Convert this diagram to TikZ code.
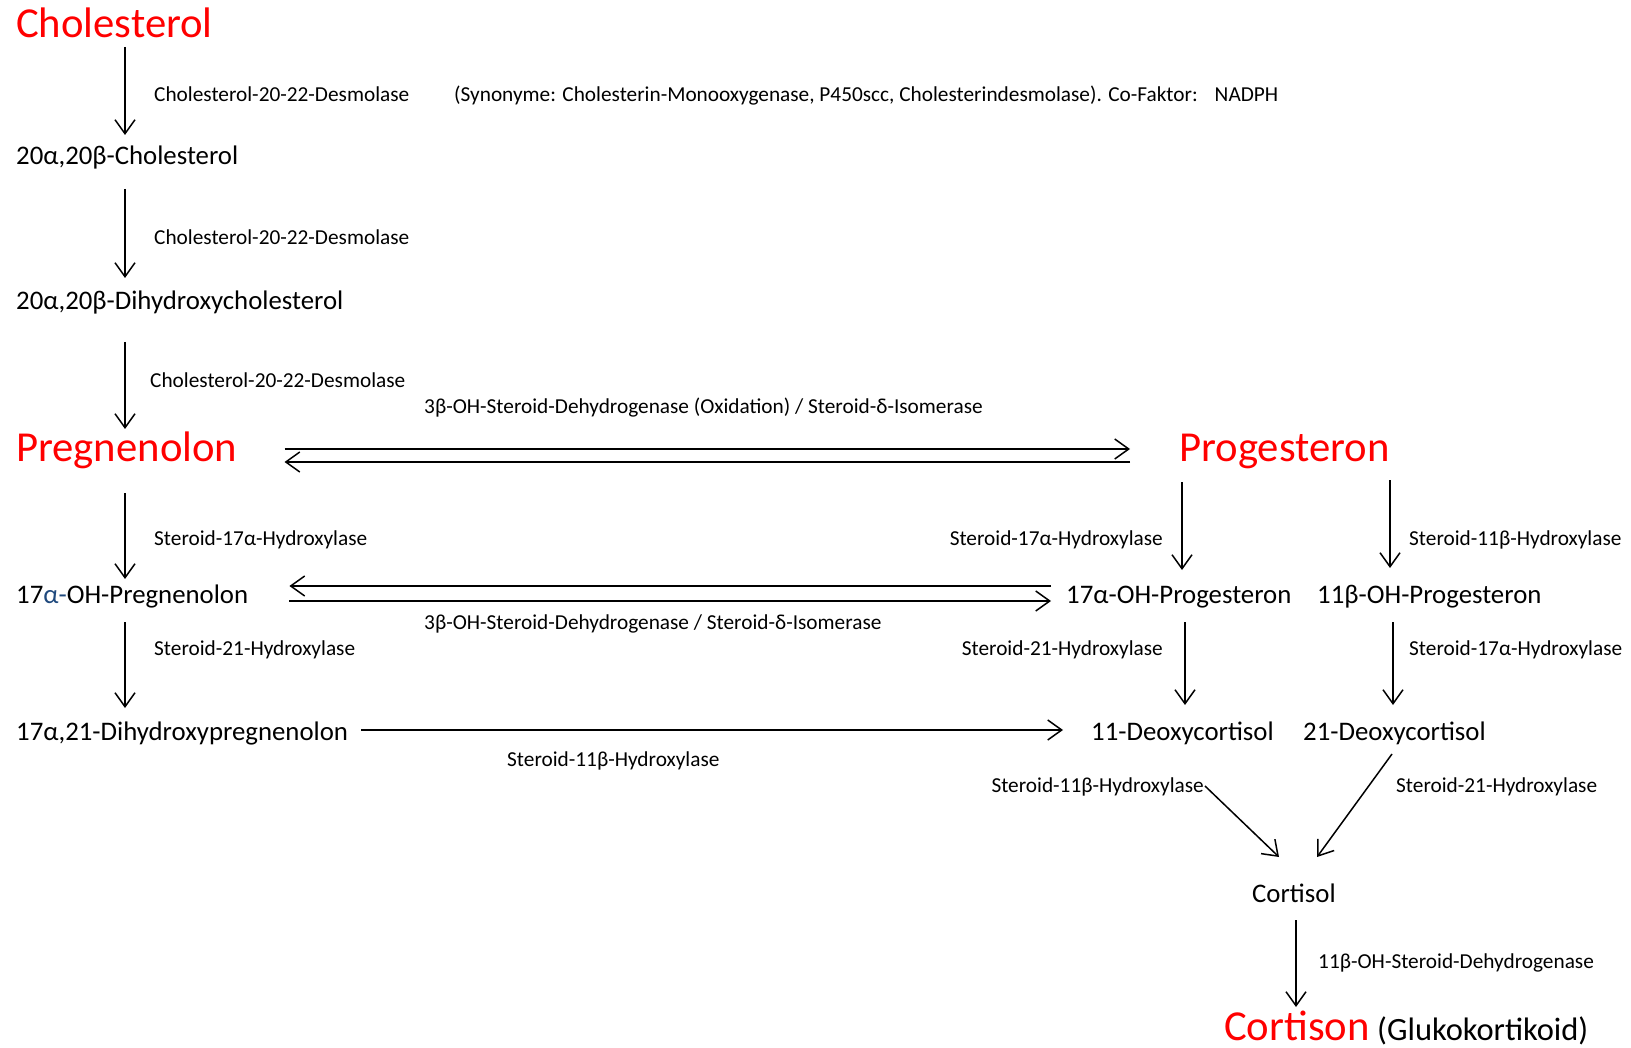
\documentclass[tikz,border=0pt]{standalone}
\usepackage{fontspec}
\setmainfont{Carlito}
\usetikzlibrary{arrows.meta,calc}
\definecolor{hred}{RGB}{255,0,0}
\definecolor{aBlue}{RGB}{31,73,125}
\begin{document}
\begin{tikzpicture}[x=1pt,y=-1pt,
  every node/.style={inner sep=0pt,anchor=base west},
  big/.style={text=hred,font=\fontsize{42.7}{50}\selectfont},
  mid/.style={font=\fontsize{26.8}{32}\selectfont},
  note/.style={font=\fontsize{32.5}{38}\selectfont},
  lbl/.style={font=\fontsize{21.3}{25}\selectfont},
  arr/.style={line width=1.5pt,-{Straight Barb[length=14pt,width=20pt]}}]
\useasboundingbox (0,0) rectangle (1631,1048);
% columns
\coordinate (colA) at (125,0);
\coordinate (colB) at (1182,0);
\coordinate (colC) at (1390,0);
\coordinate (colD) at (1185,0);
\coordinate (colE) at (1393,0);
\coordinate (colF) at (1296,0);
% substances
\node[big] (chol) at (16,38) {Cholesterol};
\node[mid] (c20) at (16,164.5) {20α,20β-Cholesterol};
\node[mid] (dihyd) at (16,309.5) {20α,20β-Dihydroxycholesterol};
\node[big] (preg) at (16,461) {Pregnenolon};
\node[big] (prog) at (1179,461) {Progesteron};
\node[mid] (ohpreg) at (16,603) {17\textcolor{aBlue}{α-}OH-Pregnenolon};
\node[mid] (ohprog) at (1066,603) {17α-OH-Progesteron};
\node[mid] (obprog) at (1317,603) {11β-OH-Progesteron};
\node[mid] (dhpreg) at (16,740) {17α,21-Dihydroxypregnenolon};
\node[mid] (deo11) at (1091,740) {11-Deoxycortisol};
\node[mid] (deo21) at (1303,740) {21-Deoxycortisol};
\node[mid] (cortisol) at (1252,902) {Cortisol};
\node[big] (cortison) at (1224,1040) {Cortison};
\node[note] (gluko) at (1377,1040) {(Glukokortikoid)};
% enzyme labels
\node[lbl] (l1) at (154,101.5) {Cholesterol-20-22-Desmolase};
\node[lbl] (syn) at (454,101.5) {(Synonyme: Cholesterin-Monooxygenase, P450scc, Cholesterindesmolase). Co-Faktor:\hspace{0.8em}NADPH};
\node[lbl] (l2) at (154,245) {Cholesterol-20-22-Desmolase};
\node[lbl] (l3) at (150,388) {Cholesterol-20-22-Desmolase};
\node[lbl] (l4) at (424,414) {3β-OH-Steroid-Dehydrogenase (Oxidation) / Steroid-δ-Isomerase};
\node[lbl] (l5) at (154,545) {Steroid-17α-Hydroxylase};
\node[lbl,anchor=base east] (l6) at (1163,545) {Steroid-17α-Hydroxylase};
\node[lbl] (l7) at (1409,545) {Steroid-11β-Hydroxylase};
\node[lbl] (l8) at (424,629) {3β-OH-Steroid-Dehydrogenase / Steroid-δ-Isomerase};
\node[lbl] (l9) at (154,655) {Steroid-21-Hydroxylase};
\node[lbl,anchor=base east] (l10) at (1163,655) {Steroid-21-Hydroxylase};
\node[lbl] (l11) at (1409,655) {Steroid-17α-Hydroxylase};
\node[lbl] (l12) at (507,766) {Steroid-11β-Hydroxylase};
\node[lbl,anchor=base east] (l13) at (1204,792) {Steroid-11β-Hydroxylase};
\node[lbl] (l14) at (1396,792) {Steroid-21-Hydroxylase};
\node[lbl] (l15) at (1318,968) {11β-OH-Steroid-Dehydrogenase};
% connectors
\draw[arr] ($(chol.base -| colA)+(0,9)$) -- ($(c20.base -| colA)+(0,-29.5)$);
\draw[arr] ($(c20.base -| colA)+(0,24.5)$) -- ($(dihyd.base -| colA)+(0,-31.5)$);
\draw[arr] ($(dihyd.base -| colA)+(0,32.5)$) -- ($(preg.base -| colA)+(0,-32)$);
\draw[arr] ($(preg.base -| colA)+(0,32)$) -- ($(ohpreg.base -| colA)+(0,-24)$);
\draw[arr] ($(ohpreg.base -| colA)+(0,19)$) -- ($(dhpreg.base -| colA)+(0,-32)$);
\draw[arr] ($(preg.base east)+(47,-12)$) -- ($(prog.base west)+(-49,-12)$);
\draw[arr] ($(prog.base west)+(-49,1)$) -- ($(preg.base east)+(47,1)$);
\draw[arr] ($(ohprog.base west)+(-15,-17)$) -- ($(ohpreg.base east)+(41,-17)$);
\draw[arr] ($(ohpreg.base east)+(41,-2)$) -- ($(ohprog.base west)+(-15,-2)$);
\draw[arr] ($(dhpreg.base east)+(13,-10)$) -- ($(deo11.base west)+(-28,-10)$);
\draw[arr] ($(prog.base -| colB)+(0,21)$) -- ($(ohprog.base -| colB)+(0,-33)$);
\draw[arr] ($(prog.base -| colC)+(0,19)$) -- ($(obprog.base -| colC)+(0,-35)$);
\draw[arr] ($(ohprog.base -| colD)+(0,19)$) -- ($(deo11.base -| colD)+(0,-35)$);
\draw[arr] ($(obprog.base -| colE)+(0,19)$) -- ($(deo21.base -| colE)+(0,-35)$);
\draw[arr] ($(deo11.base west)+(114,46)$) -- ($(cortisol.base west)+(27,-45)$);
\draw[arr] ($(deo21.base west)+(89,14)$) -- ($(cortisol.base west)+(65,-45)$);
\draw[arr] ($(cortisol.base -| colF)+(0,18)$) -- ($(cortison.base -| colF)+(0,-33)$);
\end{tikzpicture}
\end{document}
